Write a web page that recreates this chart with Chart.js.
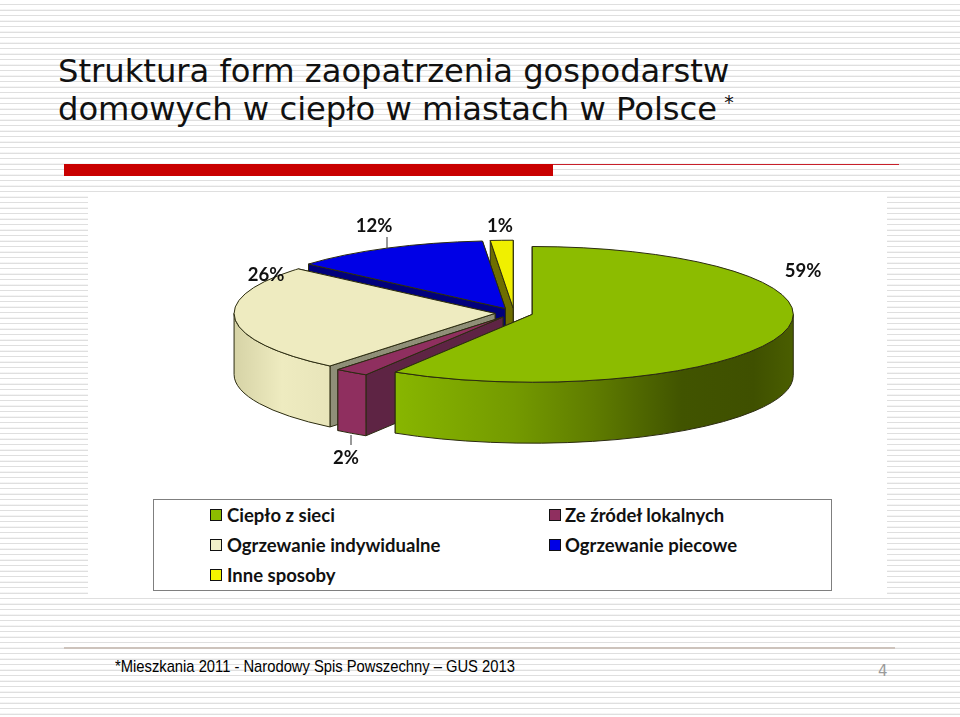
<!DOCTYPE html>
<html lang="pl">
<head>
<meta charset="utf-8">
<title>Struktura form zaopatrzenia</title>
<script src="https://cdn.jsdelivr.net/npm/chart.js@4"></script>
<style>
    html, body { margin: 0; padding: 0; }
    body {
        position: relative;
        width: 960px;
        height: 717px;
        overflow: hidden;
        background: repeating-linear-gradient(to bottom, #ffffff 0, #ffffff 3.9px, #dfdfdf 4.2px, #dfdfdf 5.2px, #ffffff 5.5px);
    }
    .abs { position: absolute; white-space: nowrap; }
    #title { left: 58px; top: 52px; font: 32.2px/38px "DejaVu Sans", sans-serif; color: #111; }
    #title sup { font-size: 19px; line-height: 0; vertical-align: 11px; margin-left: -3px; }
    #barThick { left: 64px; top: 164px; width: 489px; height: 12px; background: #c90000; }
    #barThin { left: 553px; top: 164px; width: 346px; height: 1px; background: #c8202a; }
    #panel { left: 88px; top: 193px; width: 799px; height: 404px; background: #fff; }
    #pieCanvas { position: absolute; left: 88px; top: 193px; }
    #legend { left: 153px; top: 499px; width: 677px; height: 90px; background: #fff; border: 1px solid #7f7f7f; }
    .marker { position: absolute; width: 10px; height: 10px; border: 1.5px solid #111; }
    .legendText { position: absolute; font: bold 18.5px/22px Lato, sans-serif; color: #111; }
    #footLine { left: 64px; top: 647px; width: 831px; height: 2px; background: #cdc3bc; }
    #source { left: 115px; top: 656px; font: 16.4px/20px "Liberation Sans", sans-serif; color: #000; transform: scaleX(0.9); transform-origin: left center; }
    #pageNo { left: 878px; top: 662px; font: 15px/18px "DejaVu Sans", sans-serif; color: #9a9a9a; }
</style>
</head>
<body>
<div class="abs" id="title">Struktura form zaopatrzenia gospodarstw<br>domowych w ciepło w miastach w Polsce <sup>*</sup></div>
<div class="abs" id="barThick"></div>
<div class="abs" id="barThin"></div>
<div class="abs" id="panel"></div>
<canvas id="pieCanvas" width="799" height="404"></canvas>
<div class="abs" id="legend"></div>
<div class="abs" id="footLine"></div>
<div class="abs" id="source">*Mieszkania 2011 - Narodowy Spis Powszechny – GUS 2013</div>
<div class="abs" id="pageNo">4</div>

<script>
// Chart data (slice sizes estimated, labels are rounded)
const categories = ['Ciepło z sieci', 'Ze źródeł lokalnych', 'Ogrzewanie indywidualne', 'Ogrzewanie piecowe', 'Inne sposoby'];
const shares = [58.8, 2.1, 25.5, 12.2, 1.4];

// Colours per slice
const topColors = ['#8cbc00', '#8f2f5f', '#eeebc0', '#0000e6', '#f0f000'];
const edgeColors = ['#6f9300', '#5e2444', '#8f8f78', '#00007c', '#6e6e00'];
const markerColors = ['#8cbc00', '#8f2f5f', '#f2f0c8', '#0000e6', '#f5f500'];

// Look of the fake 3D pie
const squash = 0.26;
const depth = 61;
const explode = 19;

// Where each percentage label sits on the canvas
const labelSpots = [[715, 78], [258, 265], [178, 82], [286, 33], [412, 33]];

// Draws one slice: cut walls, rim, then the top through the arc element
function drawSlice(ctx, arc, i) {
    const mid = (arc.startAngle + arc.endAngle) / 2;
    const r = arc.outerRadius;
    const ox = arc.x + Math.cos(mid) * explode;
    const oy = arc.y + Math.sin(mid) * explode * squash;
    const rimAt = a => [ox + r * Math.cos(a), oy + r * squash * Math.sin(a)];

    ctx.save();
    ctx.lineWidth = 1;
    ctx.strokeStyle = '#2b2b10';

    // Flat walls along both cuts
    [arc.endAngle, arc.startAngle].forEach(a => {
        const [px, py] = rimAt(a);
        ctx.beginPath();
        ctx.moveTo(ox, oy);
        ctx.lineTo(px, py);
        ctx.lineTo(px, py + depth);
        ctx.lineTo(ox, oy + depth);
        ctx.closePath();
        ctx.fillStyle = edgeColors[i];
        ctx.fill();
        ctx.stroke();
    });

    // Rim, only the part facing the viewer
    const from = Math.max(arc.startAngle, 0);
    const to = Math.min(arc.endAngle, Math.PI);
    if (to > from) {
        const [x0] = rimAt(to);
        const [x1] = rimAt(from);
        const shade = ctx.createLinearGradient(x0, 0, x1, 0);
        if (i === 0) {
            shade.addColorStop(0, '#88b600');
            shade.addColorStop(0.3, '#749a00');
            shade.addColorStop(0.5, '#5f7c00');
            shade.addColorStop(0.72, '#415400');
            shade.addColorStop(0.9, '#3f5000');
            shade.addColorStop(1, '#4a5e00');
        } else if (i === 2) {
            shade.addColorStop(0, '#d6d3a6');
            shade.addColorStop(0.5, '#eeebc0');
            shade.addColorStop(1, '#e8e5ba');
        } else {
            shade.addColorStop(0, topColors[i]);
            shade.addColorStop(1, topColors[i]);
        }
        ctx.beginPath();
        ctx.ellipse(ox, oy, r, r * squash, 0, from, to);
        ctx.ellipse(ox, oy + depth, r, r * squash, 0, to, from, true);
        ctx.closePath();
        ctx.fillStyle = shade;
        ctx.fill();
        ctx.stroke();
    }

    // Top face: the library's own arc, squashed and pulled out
    ctx.save();
    ctx.translate(ox, oy);
    ctx.scale(1, squash);
    ctx.translate(-arc.x, -arc.y);
    arc.draw(ctx);
    ctx.restore();

    // Outline after the scale so the line keeps its width
    ctx.beginPath();
    ctx.moveTo(ox, oy);
    ctx.ellipse(ox, oy, r, r * squash, 0, arc.startAngle, arc.endAngle);
    ctx.closePath();
    ctx.stroke();
    ctx.restore();
}

const pie3d = {
    id: 'pie3d',
    beforeDatasetsDraw(chart) {
        const arcs = chart.getDatasetMeta(0).data;
        // Back to front
        for (let i = arcs.length - 1; i >= 0; i--) {
            drawSlice(chart.ctx, arcs[i], i);
        }
        return false;
    },
    afterDraw(chart) {
        const ctx = chart.ctx;
        ctx.save();
        // Two small leader lines
        ctx.strokeStyle = '#333';
        ctx.lineWidth = 1;
        ctx.beginPath();
        ctx.moveTo(299, 44);
        ctx.lineTo(299, 55);
        ctx.moveTo(263, 242);
        ctx.lineTo(263, 252);
        ctx.stroke();

        ctx.font = 'bold 18.5px Lato, sans-serif';
        ctx.fillStyle = '#111';
        ctx.textAlign = 'center';
        ctx.textBaseline = 'middle';
        shares.forEach((v, i) => {
            ctx.fillText(Math.round(v) + '%', labelSpots[i][0], labelSpots[i][1]);
        });
        ctx.restore();
    }
};

function createPie() {
    new Chart(document.getElementById('pieCanvas'), {
        type: 'pie',
        data: {
            labels: categories,
            datasets: [{
                data: shares,
                backgroundColor: topColors,
                borderWidth: 0,
                radius: 261
            }]
        },
        options: {
            responsive: false,
            animation: false,
            // Puts the pie centre at (426, 120) on the canvas
            layout: { padding: { left: 53, bottom: 164 } },
            plugins: {
                legend: { display: false },
                tooltip: { enabled: false }
            }
        },
        plugins: [pie3d]
    });
}

// Legend in two columns, like the source slide
function createLegend() {
    const box = document.getElementById('legend');
    categories.forEach((name, i) => {
        const col = i % 2;
        const row = Math.floor(i / 2);
        const marker = document.createElement('div');
        marker.className = 'marker';
        marker.style.left = (col ? 395 : 56) + 'px';
        marker.style.top = (9 + row * 30) + 'px';
        marker.style.background = markerColors[i];
        box.appendChild(marker);

        const text = document.createElement('div');
        text.className = 'legendText';
        text.style.left = (col ? 411 : 73) + 'px';
        text.style.top = (4 + row * 30) + 'px';
        text.textContent = name;
        box.appendChild(text);
    });
}

createPie();
createLegend();
</script>
</body>
</html>
